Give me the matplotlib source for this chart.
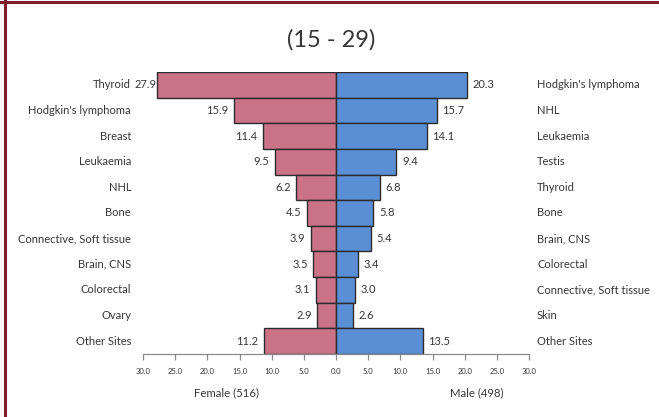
import numpy as np
import matplotlib as mpl
mpl.use('Agg')
import matplotlib.pyplot as plt
import matplotlib.transforms as mtransforms
from matplotlib.lines import Line2D

plt.rcParams['font.family'] = ['Lato', 'DejaVu Sans']

female_sites = ['Thyroid', "Hodgkin's lymphoma", 'Breast', 'Leukaemia', 'NHL', 'Bone',
                'Connective, Soft tissue', 'Brain, CNS', 'Colorectal', 'Ovary', 'Other Sites']
female_vals = [27.9, 15.9, 11.4, 9.5, 6.2, 4.5, 3.9, 3.5, 3.1, 2.9, 11.2]

male_sites = ["Hodgkin's lymphoma", 'NHL', 'Leukaemia', 'Testis', 'Thyroid', 'Bone',
              'Brain, CNS', 'Colorectal', 'Connective, Soft tissue', 'Skin', 'Other Sites']
male_vals = [20.3, 15.7, 14.1, 9.4, 6.8, 5.8, 5.4, 3.4, 3.0, 2.6, 13.5]

ticks = [-30, -25, -20, -15, -10, -5, 0, 5, 10, 15, 20, 25, 30]
title = '(15 - 29)'
female_label = 'Female (516)'
male_label = 'Male (498)'

txt = '#363636'
pink = '#c97288'
blue = '#5b8fd5'

W, H = 659, 417
fig = plt.figure(figsize=(W / 100, H / 100), dpi=100)
ax = fig.add_axes([143 / W, (H - 354) / H, 386 / W, 282 / H])

y = np.arange(len(female_vals))
ax.barh(y, -np.array(female_vals), height=1.0, color=pink, edgecolor='#2b2b2b', linewidth=1.0)
ax.barh(y, male_vals, height=1.0, color=blue, edgecolor='#2b2b2b', linewidth=1.0)

ax.set_xlim(-30, 30)
ax.set_ylim(len(y) - 0.5, -0.5)

for s in ['top', 'left', 'right']:
    ax.spines[s].set_visible(False)
ax.spines['bottom'].set_color('#8a8a8a')
ax.spines['bottom'].set_linewidth(0.9)
ax.set_yticks([])
ax.set_xticks(ticks)
ax.set_xticklabels(['%.1f' % abs(t) for t in ticks], fontsize=5.5, color=txt)
ax.tick_params(axis='x', length=4, color='#8a8a8a', width=0.9, pad=6)

# value labels next to the bar ends (the longest one sits right against its bar)
for i, v in enumerate(female_vals):
    off = 0 if v > 25 else -4
    ax.annotate('%.1f' % v, (-v, i), xytext=(off, 0), textcoords='offset points',
                ha='right', va='center', fontsize=8, color=txt)
for i, v in enumerate(male_vals):
    ax.annotate('%.1f' % v, (v, i), xytext=(4, 0), textcoords='offset points',
                ha='left', va='center', fontsize=8, color=txt)

# site names on both sides
tr = mtransforms.blended_transform_factory(fig.transFigure, ax.transData)
for i, name in enumerate(female_sites):
    fig.text(131 / W, i, name, transform=tr, ha='right', va='center', fontsize=8, color=txt)
for i, name in enumerate(male_sites):
    fig.text(537 / W, i, name, transform=tr, ha='left', va='center', fontsize=8, color=txt)

fig.text(331 / W, 1 - 40 / H, title, ha='center', va='center', fontsize=17, color=txt)
fig.text(226 / W, 1 - 393 / H, female_label, ha='center', va='center', fontsize=8.2, color=txt)
fig.text(477 / W, 1 - 393 / H, male_label, ha='center', va='center', fontsize=8.2, color=txt)

# frame lines along the top and left
fig.add_artist(Line2D([0, 1], [1 - 2 / H, 1 - 2 / H], transform=fig.transFigure, color='#7a1f2b', lw=2.2))
fig.add_artist(Line2D([4.5 / W, 4.5 / W], [0, 1], transform=fig.transFigure, color='#7a1f2b', lw=2.2))

plt.savefig('out.png', dpi=100)
